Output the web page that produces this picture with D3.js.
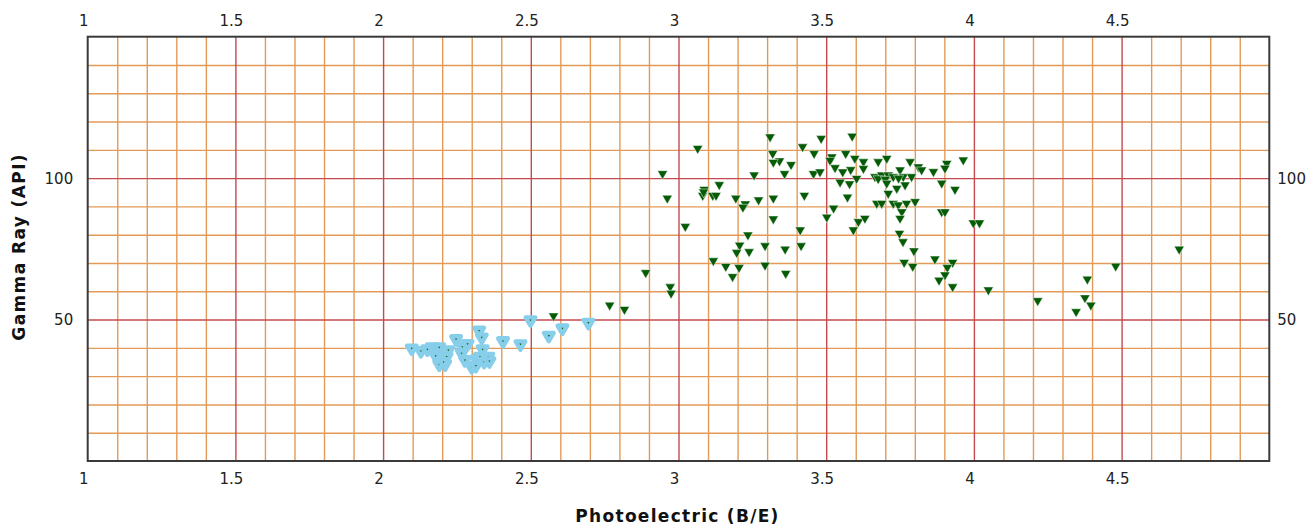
<!DOCTYPE html>
<html>
<head>
<meta charset="utf-8">
<script src="https://cdn.jsdelivr.net/npm/d3@7"></script>
<style>
  html, body { margin: 0; padding: 0; background: #fff; }
  svg { display: block; }
  text { font-family: "DejaVu Sans", Verdana, sans-serif; }
</style>
</head>
<body>
<script>
// ---- data ----
const xTickLabels = [1, 1.5, 2, 2.5, 3, 3.5, 4, 4.5];
const yTickLabels = [50, 100];
const xTitle = "Photoelectric (B/E)";
const yTitle = "Gamma Ray (API)";

// series 1: dark green triangles
const greenX = [3.310,3.483,3.588,3.065,3.420,3.459,3.319,3.342,3.321,3.381,3.519,3.513,3.566,
  3.597,3.626,3.626,3.530,3.583,3.556,3.359,3.256,2.946,3.457,3.479,3.603,3.547,3.579,
  3.138,3.087,3.082,3.085,3.116,3.127,2.962,3.194,3.226,3.218,3.271,3.321,3.426,3.572,
  3.525,3.502,3.321,3.023,3.412,3.592,3.609,3.631,3.748,3.760,3.235,3.207,3.197,3.239,
  3.293,3.361,3.415,3.118,3.160,3.205,3.183,3.293,3.363,3.797,3.764,3.793,3.868,3.928,
  3.910,3.902,3.882,3.928,4.049,2.889,2.972,2.975,3.998,4.019,
  3.676,3.705,3.784,3.812,3.823,3.863,3.908,3.902,3.964,
  3.665,3.688,3.710,3.727,3.750,3.761,3.789,3.676,3.700,3.745,
  3.705,3.739,3.767,3.891,3.936,3.710,3.671,3.688,3.727,3.744,3.772,3.801,3.756,3.750,
  3.891,3.902,
  4.695,4.480,4.384,4.216,4.376,4.396,4.346,2.577,2.767,2.817];
const greenY = [114.6,114.0,114.8,110.5,111.1,108.7,108.7,106.1,105.6,104.8,107.5,106.3,108.7,
  107.0,105.8,103.4,103.7,103.0,102.2,101.6,101.1,101.6,101.6,102.2,99.9,98.6,98.0,
  97.7,96.0,93.9,95.1,93.9,93.9,92.9,92.9,90.9,89.7,92.3,92.9,93.9,93.3,
  89.4,86.2,85.6,82.9,81.7,81.7,84.6,85.8,80.5,77.5,79.9,76.3,73.7,74.0,
  76.1,74.9,76.1,70.8,68.8,68.4,65.2,69.2,66.3,74.3,70.2,68.8,71.4,70.2,
  68.4,65.8,63.9,61.6,60.5,66.6,61.6,59.3,84.2,84.2,
  105.8,107.0,105.8,104.0,102.9,102.3,105.2,103.5,106.4,
  100.5,101.1,101.1,100.5,102.9,100.5,100.5,99.8,99.6,100.0,
  98.2,96.4,97.6,98.2,96.0,94.6,91.1,91.1,91.1,90.5,91.1,91.7,88.1,85.8,
  88.1,88.1,
  74.9,68.9,64.3,56.7,57.7,55.1,52.8,51.3,55.1,53.6];

// series 2: sky blue triangles
const blueX = [2.097,2.128,2.165,2.190,2.178,2.221,2.215,2.190,2.210,2.247,2.268,2.286,2.266,
  2.277,2.300,2.317,2.314,2.325,2.334,2.337,2.328,2.342,2.356,2.360,2.150,2.205,
  2.406,2.465,2.561,2.499,2.607,2.695];
const blueY = [39.8,38.9,40.2,40.2,37.2,39.2,36.9,34.2,34.2,43.1,40.4,41.4,38.1,
  35.7,33.3,36.0,33.7,46.1,43.7,39.5,36.9,35.1,36.9,35.3,39.5,35.0,
  42.4,41.3,44.3,49.8,46.9,48.9];

// ---- layout ----
const W = 1307, H = 526;
const pLeft = 87.7, pRight = 1269.3, pTop = 36.7, pBottom = 461;

const svg = d3.select("body").append("svg").attr("width", W).attr("height", H);

const x = d3.scaleLinear().domain([1, 5]).range([pLeft, pRight]);
const y = d3.scaleLinear().domain([0, 150]).range([pBottom, pTop]);

const isMajor = v => Math.abs(v * 2 - Math.round(v * 2)) < 1e-6;
const xMinor = d3.range(11, 50).map(i => i / 10).filter(v => !isMajor(v));
const xMajor = d3.range(3, 10).map(i => i / 2);
const yMinor = d3.range(1, 15).map(i => i * 10).filter(v => v % 50 !== 0);
const yMajor = [50, 100];

const minorColor = "#e39a58";
const majorColor = "#c44a4f";

function grid(axis, cls, color, width) {
  const g = svg.append("g").attr("class", cls);
  g.call(axis);
  g.select(".domain").remove();
  g.selectAll("line").attr("stroke", color).attr("stroke-width", width);
  g.selectAll("text").remove();
  return g;
}

grid(d3.axisBottom(x).tickValues(xMinor).tickSize(-(pBottom - pTop)).tickFormat(""), "xminor", minorColor, 1.4)
  .attr("transform", `translate(0,${pBottom})`);
grid(d3.axisLeft(y).tickValues(yMinor).tickSize(-(pRight - pLeft)).tickFormat(""), "yminor", minorColor, 1.4)
  .attr("transform", `translate(${pLeft},0)`);
grid(d3.axisBottom(x).tickValues(xMajor).tickSize(-(pBottom - pTop)).tickFormat(""), "xmajor", majorColor, 1.4)
  .attr("transform", `translate(0,${pBottom})`);
grid(d3.axisLeft(y).tickValues(yMajor).tickSize(-(pRight - pLeft)).tickFormat(""), "ymajor", majorColor, 1.4)
  .attr("transform", `translate(${pLeft},0)`);

// frame
svg.append("rect")
  .attr("x", pLeft).attr("y", pTop)
  .attr("width", pRight - pLeft).attr("height", pBottom - pTop)
  .attr("fill", "none").attr("stroke", "#3a3a3a").attr("stroke-width", 2);

// tick labels
function labels(axis, transform, setup) {
  const g = svg.append("g").attr("transform", transform).call(axis);
  g.select(".domain").remove();
  g.selectAll("line").remove();
  g.selectAll("text")
    .attr("font-family", "DejaVu Sans, Verdana, sans-serif")
    .attr("font-size", 15).attr("fill", "#222");
  setup(g);
}
const fmt = d => String(d);
labels(d3.axisTop(x).tickValues(xTickLabels).tickSize(0).tickFormat(fmt), `translate(0,${pTop})`,
  g => g.selectAll("text").attr("dx", -4.5).attr("y", -11).attr("dy", 0));
labels(d3.axisBottom(x).tickValues(xTickLabels).tickSize(0).tickFormat(fmt), `translate(0,${pBottom})`,
  g => g.selectAll("text").attr("dx", -4.5).attr("y", 22.5).attr("dy", 0));
labels(d3.axisLeft(y).tickValues(yTickLabels).tickSize(0).tickFormat(fmt), `translate(${pLeft},0)`,
  g => g.selectAll("text").attr("x", -14.5).attr("dy", "0.35em"));
labels(d3.axisRight(y).tickValues(yTickLabels).tickSize(0).tickFormat(fmt), `translate(${pRight},0)`,
  g => g.selectAll("text").attr("x", 8).attr("dy", "0.35em"));

// axis titles
svg.append("text")
  .attr("x", (pLeft + pRight) / 2 - 1).attr("y", 522)
  .attr("text-anchor", "middle")
  .attr("font-size", 17).attr("font-weight", "bold").attr("letter-spacing", 1.3)
  .attr("fill", "#111")
  .text(xTitle);
svg.append("text")
  .attr("transform", `translate(25,${(pTop + pBottom) / 2 - 2}) rotate(-90)`)
  .attr("text-anchor", "middle")
  .attr("font-size", 17).attr("font-weight", "bold").attr("letter-spacing", 1.4)
  .attr("fill", "#111")
  .text(yTitle);

// markers
const tri = d3.symbol().type(d3.symbolTriangle).size(44);
const triBlue = d3.symbol().type(d3.symbolTriangle).size(40);
const green = greenX.map((v, i) => ({x: v, y: greenY[i]}));
const blue = blueX.map((v, i) => ({x: v, y: blueY[i]}));

svg.append("g").selectAll("path").data(blue).join("path")
  .attr("d", triBlue)
  .attr("transform", d => `translate(${x(d.x)},${y(d.y)}) rotate(180)`)
  .attr("fill", "#0b5d0b")
  .attr("stroke", "#87ceeb").attr("stroke-width", 4.4).attr("stroke-linejoin", "round");

svg.append("g").selectAll("path").data(green).join("path")
  .attr("d", tri)
  .attr("transform", d => `translate(${x(d.x)},${y(d.y)}) rotate(180)`)
  .attr("fill", "#065c06")
  .attr("stroke", "#ffffff").attr("stroke-opacity", 0.6).attr("stroke-width", 0.8);
</script>
</body>
</html>
